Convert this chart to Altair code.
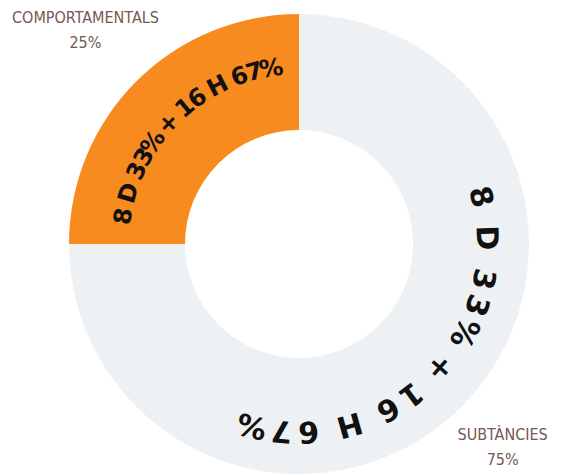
import math
import altair as alt
import pandas as pd

# ---- data ----
categories = ["SUBTÀNCIES", "COMPORTAMENTALS"]
shares = [75, 25]
share_labels = ["75%", "25%"]
slice_colors = ["#EEF1F4", "#F78B20"]
arc_texts = ["8 D 33% + 16 H 67%", "8 D 33% + 16 H 67%"]

# ---- layout constants ----
W, H = 549, 467
CX, CY = 291, 236
R_OUT, R_IN = 230, 114
TEXT_RADIUS = [187, 177]
TEXT_SPAN_DEG = [119, 72]
TEXT_FONT = [30, 24]
LABEL_RADIUS = [288, 302]
LINE_H = 25

EM = {" ": 0.30, "%": 0.85, "+": 0.75, "D": 0.830, "H": 0.837}


def em(c):
    return EM.get(c, 0.696)


total = sum(shares)
label_rows, rows = [], []
start = 0
for cat, sh, pl, txt, r_t, span, fs, lr in zip(categories, shares, share_labels, arc_texts,
                                              TEXT_RADIUS, TEXT_SPAN_DEG, TEXT_FONT, LABEL_RADIUS):
    mid = (start + sh / 2) / total * 360
    start += sh
    label_rows.append({"category": cat, "label": f"{cat}\n{pl}", "rad": math.radians(mid), "r": lr})
    centers, acc = [], 0.0
    for c in txt:
        w = em(c)
        centers.append(acc + w / 2)
        acc += w
    first, last = centers[0], centers[-1]
    for ch, c in zip(txt, centers):
        deg = mid - span / 2 + (c - first) / (last - first) * span
        rows.append({"ch": ch, "deg": deg % 360, "rad": math.radians(deg), "r": r_t, "fs": fs})

slices = pd.DataFrame({"idx": list(range(len(categories))), "category": categories, "share": shares})
labels_df = pd.DataFrame(label_rows)
chars = pd.DataFrame(rows)

arcs = alt.Chart(slices).mark_arc(innerRadius=R_IN, outerRadius=R_OUT).encode(
    theta=alt.Theta("share:Q", stack=True),
    color=alt.Color("category:N", scale=alt.Scale(domain=categories, range=slice_colors), legend=None),
    order=alt.Order("idx:Q"),
    x=alt.value(CX),
    y=alt.value(CY),
)

labels = alt.Chart(labels_df).mark_text(
    lineBreak="\n",
    font="DejaVu Sans Condensed",
    fontSize=16,
    lineHeight=LINE_H,
    dy=-LINE_H / 2,
    color="#765852",
    align="center",
    baseline="middle",
).encode(
    theta=alt.Theta("rad:Q", scale=None),
    radius=alt.Radius("r:Q", scale=None),
    text="label:N",
    x=alt.value(CX),
    y=alt.value(CY),
)

curved = alt.Chart(chars).mark_text(
    font="DejaVu Sans",
    fontWeight="bold",
    color="#111111",
    align="center",
    baseline="middle",
).encode(
    theta=alt.Theta("rad:Q", scale=None),
    radius=alt.Radius("r:Q", scale=None),
    angle=alt.Angle("deg:Q", scale=None),
    size=alt.Size("fs:Q", scale=None),
    text="ch:N",
    x=alt.value(CX),
    y=alt.value(CY),
)

chart = alt.layer(arcs, labels, curved).properties(
    width=W, height=H, padding=0,
    autosize=alt.AutoSizeParams(type="none"),
).configure_view(stroke=None)

chart.save("out.html", embed_options={"renderer": "svg", "actions": False})
